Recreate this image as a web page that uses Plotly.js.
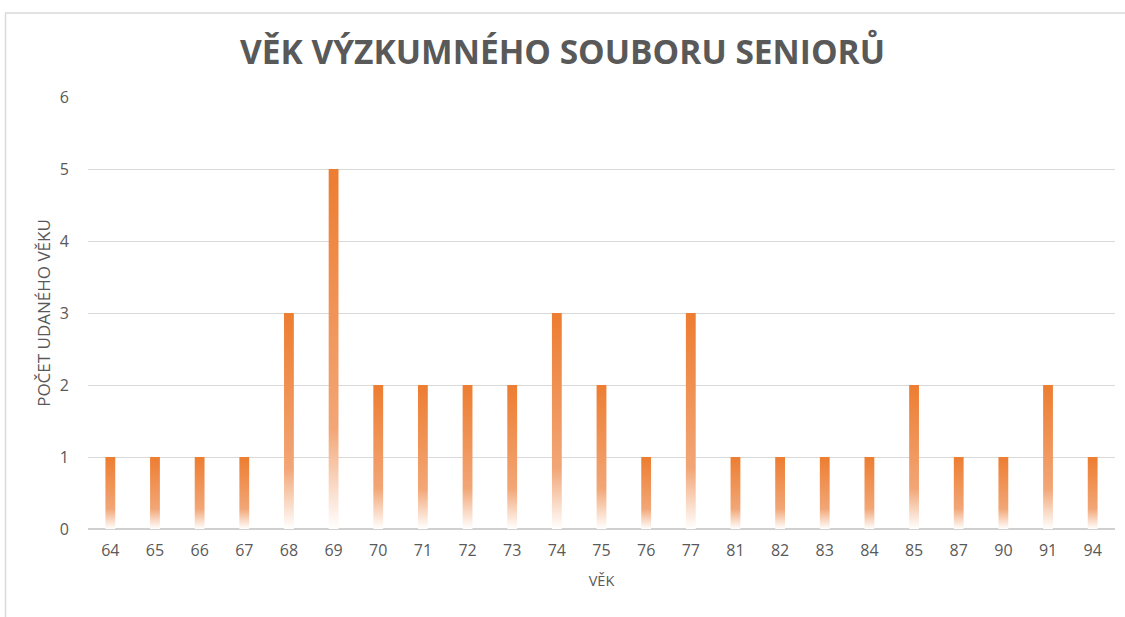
<!DOCTYPE html>
<html>
<head>
<meta charset="utf-8">
<script src="https://cdn.plot.ly/plotly-3.0.1.min.js"></script>
<style>html,body{margin:0;padding:0;background:#fff;}#chart{width:1125px;height:617px;}</style>
</head>
<body>
<div id="chart"></div>
<script>
var ages = ["64","65","66","67","68","69","70","71","72","73","74","75","76","77","81","82","83","84","85","87","90","91","94"];
var counts = [1,1,1,1,3,5,2,2,2,2,3,2,1,3,1,1,1,1,2,1,1,2,1];
var yTicks = [0,1,2,3,4,5,6];

var W = 1125, H = 617;
var L = 88, R = 10, T = 97, B = 88;
function px(x){ return (x - L) / (W - L - R); }
function py(y){ return (H - B - y) / (H - T - B); }

var font = "Open Sans, Noto Sans, sans-serif";

var data = [{
  type: "bar",
  x: ages,
  y: counts,
  marker: {color: "#ED7D31", line: {width: 0}},
  hoverinfo: "x+y"
}];

var layout = {
  width: W, height: H,
  margin: {l: L, r: R, t: T, b: B, pad: 0},
  paper_bgcolor: "#ffffff",
  plot_bgcolor: "#ffffff",
  bargap: 0.78,
  showlegend: false,
  title: {
    text: "<b>VĚK VÝZKUMNÉHO SOUBORU SENIORŮ</b>",
    font: {family: font, size: 33.5, color: "#595959"},
    x: 0.5, xanchor: "center",
    y: 1 - 52/H, yanchor: "middle"
  },
  xaxis: {
    type: "category",
    range: [-0.5, ages.length - 0.5],
    showgrid: false,
    zeroline: false,
    showline: false,
    ticks: "",
    ticklabelstandoff: 10,
    tickfont: {family: font, size: 16, color: "#595959"},
    title: {text: "VĚK", font: {family: font, size: 14.5, color: "#595959"}, standoff: 15}
  },
  yaxis: {
    range: [0, 6],
    tickvals: yTicks,
    ticktext: yTicks.map(String),
    showgrid: true,
    gridcolor: "#d9d9d9",
    gridwidth: 1,
    zeroline: true,
    zerolinecolor: "#d0d0d0",
    zerolinewidth: 1.5,
    showline: false,
    ticks: "",
    ticklabelstandoff: 18,
    tickfont: {family: font, size: 16, color: "#595959"},
    title: {text: "POČET UDANÉHO VĚKU", font: {family: font, size: 17, color: "#595959"}, standoff: 4}
  },
  shapes: [
    {type: "line", xref: "paper", yref: "paper", x0: px(5), x1: px(1125), y0: py(13), y1: py(13), line: {color: "#d9d9d9", width: 1.5}},
    {type: "line", xref: "paper", yref: "paper", x0: px(5.5), x1: px(5.5), y0: py(13), y1: py(617), line: {color: "#d9d9d9", width: 1.5}}
  ]
};

Plotly.newPlot("chart", data, layout, {displayModeBar: false, staticPlot: true}).then(function(gd){
  var NS = "http://www.w3.org/2000/svg";
  var svg = gd.querySelector(".main-svg");
  var defs = svg.querySelector("defs");
  if (!defs) { defs = document.createElementNS(NS, "defs"); svg.insertBefore(defs, svg.firstChild); }
  var g = document.createElementNS(NS, "linearGradient");
  g.setAttribute("id", "barGrad");
  g.setAttribute("x1", "0"); g.setAttribute("y1", "0");
  g.setAttribute("x2", "0"); g.setAttribute("y2", "1");
  [["0", "#ED7D31"], ["0.72", "#F2A676"], ["1", "#FFFFFF"]].forEach(function(s){
    var st = document.createElementNS(NS, "stop");
    st.setAttribute("offset", s[0]);
    st.setAttribute("stop-color", s[1]);
    g.appendChild(st);
  });
  defs.appendChild(g);
  gd.querySelectorAll(".bars .point path").forEach(function(p){
    p.style.fill = "url(#barGrad)";
  });
});
</script>
</body>
</html>
